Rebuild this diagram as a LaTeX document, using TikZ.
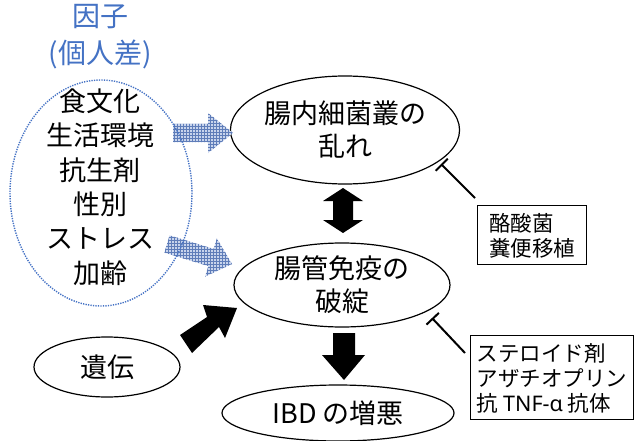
\documentclass[tikz,border=0pt]{standalone}
\usepackage{fontspec}
\setmainfont{Noto Sans CJK JP}
\newfontfamily\latinf{Noto Sans}
\usetikzlibrary{shapes.geometric,arrows.meta,patterns}
\definecolor{fblue}{RGB}{68,114,196}
\definecolor{hatchbg}{RGB}{200,212,236}
\definecolor{hatchln}{RGB}{95,125,185}
\begin{document}
\begin{tikzpicture}[x=1pt,y=-1pt,
  big/.style={font=\fontsize{27}{33}\selectfont},
  small/.style={font=\fontsize{21.5}{25}\selectfont},
  oval/.style={draw, ellipse, line width=1.2pt, inner sep=0pt, align=center, big},
  tbox/.style={draw, line width=1.3pt, anchor=north west, align=left, small,
               inner xsep=5pt, inner ysep=0pt, text depth=0pt},
  inhib/.style={line width=2pt, -{Bar[width=17pt,line width=2pt]}},
  hatched/.style={draw=none, fill=hatchbg, postaction={pattern=grid, pattern color=hatchln}},
  solidarrow/.style={fill=black, draw=none}
]
\useasboundingbox (0,0) rectangle (634,441);

% title
\node[text=fblue, align=center, font=\fontsize{28}{37}\selectfont] (title) at (100,37) {因子\\(個人差)};

% factor list
\node[align=center, font=\fontsize{27}{34.4}\selectfont] (list) at (100,187)
  {食文化\\生活環境\\抗生剤\\性別\\ストレス\\加齢};

% ellipses
\node[oval, minimum width=218pt, minimum height=108pt] (e1) at (345,130) {腸内細菌叢の\\乱れ};
\node[oval, minimum width=216pt, minimum height=84pt] (e2) at (342,285) {腸管免疫の\\破綻};
\node[oval, minimum width=232pt, minimum height=56pt] (e3) at (338,413) {IBD の増悪};
\node[oval, minimum width=146pt, minimum height=60pt] (gene) at (107,367) {遺伝};

% boxes
\node[tbox, minimum width=109pt, minimum height=59pt] (b1) at (477,205) {酪酸菌\\糞便移植};
\node[tbox, minimum width=163pt, minimum height=84pt] (b2) at (470,335)
  {ステロイド剤\\アザチオプリン\\抗 {\latinf TNF-α} 抗体};

% hatched arrows
\fill[hatched] (173,124) -- (208,124) -- (208,113) -- (233,133) -- (208,153) -- (208,142) -- (173,142) -- cycle;
\fill[hatched] (169.6,235.4) -- (213.6,248.9) -- (216.9,238.4) -- (232,264) -- (205.1,276.6) -- (208.4,266.1) -- (164.4,252.6) -- cycle;

% dotted ellipse of factors
\draw[fblue, line width=1.4pt, dash pattern=on 1.3pt off 1.2pt] (101,193) ellipse [x radius=91, y radius=113];

% double arrow between e1 and e2
\fill[solidarrow] (343,188) -- (363,201) -- (353,201) -- (353,220) -- (363,220) -- (343,233)
  -- (323,220) -- (333,220) -- (333,201) -- (323,201) -- cycle;

% down arrow e2 -> e3
\fill[solidarrow] (333,333) -- (355,333) -- (355,355) -- (365,355) -- (344,380) -- (322,355) -- (333,355) -- cycle;

% gene -> e2
\fill[solidarrow] (180,335) -- (207,317) -- (203,305) -- (237,308) -- (225,338) -- (219,327) -- (192,353) -- cycle;

% inhibition lines
\coordinate (t1) at (441,164);
\coordinate (t2) at (432,318);
\coordinate (s2) at (465,353);
\draw[inhib] (b1.north west) ++(-2,-7) -- (t1);
\draw[inhib] (s2) -- (t2);
\end{tikzpicture}
\end{document}
